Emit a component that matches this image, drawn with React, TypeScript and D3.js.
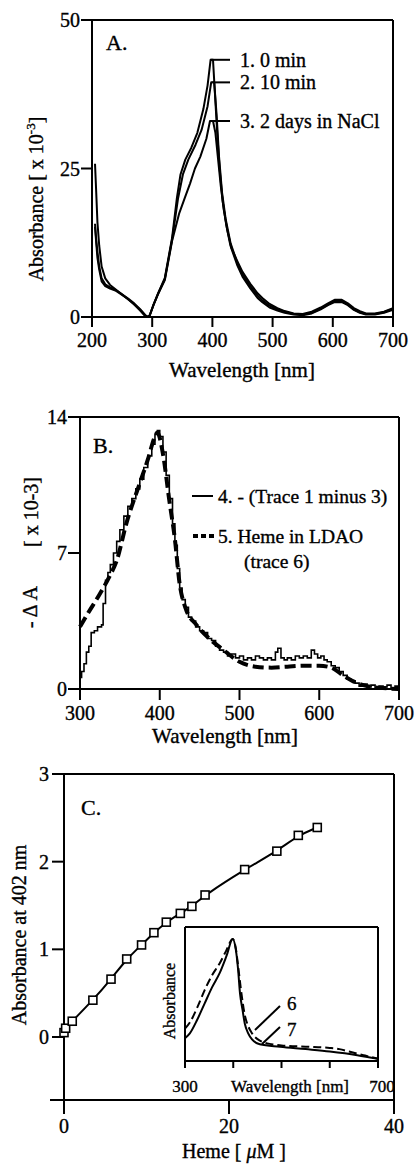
import React from "react";
import * as d3 from "d3";

type P = [number, number];

// ---------- Panel A data ----------
const ticksA_x = [200, 300, 400, 500, 600, 700];
const ticksA_y = [0, 25, 50];
const legendA = ["1. 0 min", "2. 10 min", "3. 2 days in NaCl"];
const peaksA: P[] = [[397, 43.3], [400, 39.5], [398, 33]];

const traceA1: P[] = [[205,25.8],[207,21],[209,16],[212,12],[216,8.5],[222,6.5],[230,5.4],[240,4.6],[250,3.8],[260,3.0],[270,2.2],[280,1.2],[288,0.3],[292,0],[296,0.3],[302,2],[310,4],[321,6.6],[333,13.3],[341,20],[347,24],[355,26.5],[365,28.5],[375,31],[385,35],[392,39],[397,43.3],[401,43.3],[404,38],[408,31],[412,25],[417,19.5],[423,15.5],[430,12],[441,8.8],[450,6.8],[463,4.8],[475,3.2],[483,2.5],[495,1.6],[508,1.1],[520,0.7],[535,0.4],[550,0.3],[565,0.6],[580,1.3],[592,2.0],[603,2.5],[615,2.5],[625,2.0],[635,1.2],[645,0.7],[655,0.4],[670,0.4],[685,0.7],[700,1.2]];
const traceA2: P[] = [[205,15.7],[207,13],[209,11],[212,8.5],[216,6.5],[222,5.5],[230,5],[240,4.5],[250,3.8],[260,3.1],[270,2.3],[280,1.3],[288,0.4],[292,0],[296,0.3],[302,2],[310,4],[321,6.4],[333,13],[343,20],[351,24],[360,26.5],[372,29],[382,31.5],[392,35.5],[398,39.5],[403,39.5],[407,34],[411,27],[416,21],[422,16.5],[430,12.5],[441,9.2],[450,7.2],[463,5.2],[475,3.6],[483,2.8],[495,1.9],[508,1.3],[520,0.9],[535,0.5],[550,0.4],[565,0.7],[580,1.4],[592,2.1],[603,2.7],[615,2.7],[625,2.1],[635,1.3],[645,0.8],[655,0.5],[670,0.5],[685,0.8],[700,1.4]];
const traceA3: P[] = [[205,15.2],[207,12.5],[209,10],[212,8],[216,6],[222,5.2],[230,4.8],[240,4.4],[250,3.7],[260,3.0],[270,2.1],[280,1.1],[288,0.2],[292,0],[296,0.3],[302,2],[310,3.9],[321,6.2],[333,12.8],[345,17.5],[354,20],[363,22.5],[371,25],[380,27],[390,30],[396,33],[401,33],[405,31],[409,27],[414,22],[419,18],[425,14.5],[432,11.5],[441,9.5],[450,7.6],[463,5.6],[475,4],[483,3.2],[495,2.2],[508,1.5],[520,1.0],[535,0.6],[550,0.5],[565,0.9],[580,1.6],[592,2.3],[603,2.9],[615,2.9],[625,2.3],[635,1.5],[645,1.0],[655,0.6],[670,0.6],[685,0.9],[700,1.5]];

// ---------- Panel B data ----------
const ticksB_x = [300, 400, 500, 600, 700];
const ticksB_y = [0, 7, 14];
const legendB = ["4.  - (Trace 1 minus 3)", "5.  Heme in LDAO", "(trace 6)"];
const traceB4: P[] = [[300,0.6],[302,0.9],[305,1.3],[308,1.9],[311,2.2],[314,2.9],[318,3.0],[322,3.2],[327,3.3],[329,4.4],[332,5.6],[335,6.0],[338,6.4],[342,7.0],[346,7.6],[350,8.2],[355,8.9],[360,9.4],[365,9.8],[370,10.3],[375,10.8],[380,11.4],[385,12.0],[390,12.6],[394,13.1],[397,13.3],[400,13.0],[404,12.2],[408,11.0],[412,9.8],[416,8.5],[419,7.4],[422,6.2],[425,5.2],[428,4.6],[432,4.2],[436,3.7],[440,3.5],[445,3.2],[450,3.0],[455,2.9],[460,2.6],[465,2.5],[470,2.2],[475,2.0],[480,1.9],[485,1.7],[490,1.8],[495,1.6],[500,1.7],[505,1.5],[510,1.6],[515,1.5],[520,1.7],[525,1.6],[530,1.5],[535,1.6],[540,1.5],[545,1.9],[548,2.1],[552,1.6],[556,1.5],[560,1.6],[565,1.5],[570,1.7],[575,1.6],[580,1.7],[585,1.6],[590,2.0],[594,1.8],[598,1.6],[602,1.7],[606,1.5],[610,1.4],[615,1.2],[620,1.1],[625,0.9],[630,0.7],[635,0.5],[640,0.4],[645,0.3],[650,0.15],[655,0.25],[660,0.1],[665,0.2],[670,0.05],[675,0.15],[680,0.1],[685,0.2],[690,0.05],[695,0.15],[700,0.1]];
const traceB5: P[] = [[300,3.2],[310,3.9],[325,4.9],[337,5.8],[346,6.6],[358,8.5],[375,10.6],[385,11.8],[394,13.0],[397,13.2],[404,12.1],[412,9.7],[419,7.7],[425,5.4],[432,4.2],[446,3.3],[462,2.6],[480,2.0],[500,1.4],[520,1.15],[540,1.1],[560,1.15],[580,1.2],[600,1.2],[615,1.1],[630,0.7],[645,0.35],[660,0.15],[680,0.05],[700,0]];

// ---------- Panel C data ----------
const ticksC_x = [0, 20, 40];
const ticksC_y = [0, 1, 2, 3];
const hemeConc = [0, 0.2, 1.0, 3.5, 5.7, 7.6, 9.4, 10.9, 12.4, 14.1, 15.5, 17.1, 21.9, 25.8, 28.4, 30.7];
const abs402 = [0.05, 0.1, 0.18, 0.42, 0.66, 0.89, 1.05, 1.19, 1.31, 1.41, 1.49, 1.62, 1.91, 2.12, 2.30, 2.39];

// inset
const insetTicks = [300, 400, 500, 600, 700];
const insetLabels = ["6", "7"];
const trace6: P[] = [[300,0.26],[310,0.31],[325,0.43],[341,0.58],[356,0.7],[372,0.8],[385,0.9],[399,1.0],[405,0.93],[410,0.78],[416,0.58],[424,0.37],[431,0.28],[439,0.22],[455,0.16],[480,0.13],[500,0.12],[550,0.11],[600,0.1],[620,0.09],[640,0.07],[670,0.04],[700,0.01]];
const trace7: P[] = [[300,0.18],[310,0.22],[325,0.33],[341,0.47],[356,0.6],[372,0.72],[386,0.86],[399,1.0],[405,0.92],[410,0.75],[414,0.55],[419,0.42],[424,0.3],[431,0.22],[439,0.17],[455,0.13],[497,0.11],[550,0.09],[600,0.07],[657,0.04],[700,0.01]];

const serif = '"Liberation Serif","Times New Roman",serif';

export default function App() {
  // Panel A scales
  const xA = d3.scaleLinear().domain([200, 700]).range([92, 393]);
  const yA = d3.scaleLinear().domain([0, 50]).range([317, 20]);
  const lineA = d3.line<P>().x(d => xA(d[0])).y(d => yA(d[1]));

  // Panel B scales
  const xB = d3.scaleLinear().domain([300, 700]).range([80, 399]);
  const yB = d3.scaleLinear().domain([0, 14]).range([689, 417]);
  const lineBstep = d3.line<P>().x(d => xB(d[0])).y(d => yB(d[1])).curve(d3.curveStepAfter);
  const lineBsmooth = d3.line<P>().x(d => xB(d[0])).y(d => yB(d[1])).curve(d3.curveMonotoneX);

  // Panel C scales
  const xC = d3.scaleLinear().domain([0, 40]).range([64, 394]);
  const yC = d3.scaleLinear().domain([0, 3]).range([1037, 774]);
  const yCmin = -0.72;
  const ptsC: P[] = hemeConc.map((c, i) => [c, abs402[i]]);
  const lineC = d3.line<P>().x(d => xC(d[0])).y(d => yC(d[1])).curve(d3.curveBasis);

  // inset
  const xI = d3.scaleLinear().domain([300, 700]).range([185, 378]);
  const yI = d3.scaleLinear().domain([0, 1]).range([1060, 939]);
  const lineI = d3.line<P>().x(d => xI(d[0])).y(d => yI(d[1])).curve(d3.curveMonotoneX);

  const k = "black";
  const A_left = xA(200), A_right = xA(700), A_top = yA(50), A_bot = yA(0);
  const B_left = xB(300), B_right = xB(700), B_top = yB(14), B_bot = yB(0);
  const C_left = xC(0), C_right = xC(40), C_top = yC(3), C_bot = yC(yCmin);
  const I_left = xI(300), I_right = xI(700), I_top = 927, I_bot = 1061;

  const txt = { stroke: k, strokeWidth: 0.35 } as const;

  return (
    <svg width={417} height={1165} style={{ position: "absolute", left: 0, top: 0, background: "#fff" }} fontFamily={serif} fill={k}>
      {/* ================= Panel A ================= */}
      <g stroke={k} strokeWidth={2} fill="none">
        <line x1={A_left} y1={A_top} x2={A_right} y2={A_top} />
        <line x1={A_right} y1={A_top} x2={A_right} y2={A_bot} />
        <line x1={A_left} y1={A_top} x2={A_left} y2={A_bot} />
        <line x1={A_left} y1={A_bot} x2={A_right} y2={A_bot} />
        {ticksA_x.map(t => <line key={t} x1={xA(t)} x2={xA(t)} y1={A_bot} y2={A_bot + 10} />)}
        {ticksA_y.map(t => <line key={t} x1={A_left - 11} x2={A_left} y1={yA(t)} y2={yA(t)} />)}
      </g>
      <g {...txt}>
        {ticksA_x.map(t => <text key={t} x={xA(t)} y={347} fontSize={20} textAnchor="middle">{t}</text>)}
        {ticksA_y.map(t => <text key={t} x={A_left - 12} y={yA(t) + 7} fontSize={20} textAnchor="end">{t}</text>)}
        <text x={242} y={377} fontSize={21} textAnchor="middle">Wavelength [nm]</text>
        <text transform="translate(43,199) rotate(-90)" fontSize={20} textAnchor="middle">
          Absorbance [ x 10<tspan fontSize={13} dy={-8}>-3</tspan><tspan dy={8}>]</tspan>
        </text>
        <text x={106} y={50} fontSize={22}>A.</text>
      </g>
      <g fill="none" stroke={k} strokeWidth={2} strokeLinejoin="round">
        <path d={lineA(traceA1) ?? ""} />
        <path d={lineA(traceA2) ?? ""} />
        <path d={lineA(traceA3) ?? ""} />
      </g>
      {legendA.map((s, i) => (
        <g key={s}>
          <line x1={xA(peaksA[i][0])} x2={230} y1={yA(peaksA[i][1])} y2={yA(peaksA[i][1])} stroke={k} strokeWidth={2} />
          <text x={240} y={yA(peaksA[i][1]) + 7} fontSize={20} {...txt}>{s}</text>
        </g>
      ))}

      {/* ================= Panel B ================= */}
      <g stroke={k} strokeWidth={2} fill="none">
        <line x1={B_left} y1={B_top} x2={B_right} y2={B_top} />
        <line x1={B_right} y1={B_top} x2={B_right} y2={B_bot} />
        <line x1={B_left} y1={B_top} x2={B_left} y2={B_bot} />
        <line x1={B_left} y1={B_bot} x2={B_right} y2={B_bot} />
        {ticksB_x.map(t => <line key={t} x1={xB(t)} x2={xB(t)} y1={B_bot} y2={B_bot + 11} />)}
        {ticksB_y.map(t => <line key={t} x1={B_left - 12} x2={B_left} y1={yB(t)} y2={yB(t)} />)}
      </g>
      <g {...txt}>
        {ticksB_x.map(t => <text key={t} x={xB(t)} y={720} fontSize={20} textAnchor="middle">{t}</text>)}
        {ticksB_y.map(t => <text key={t} x={B_left - 13} y={yB(t) + 7} fontSize={20} textAnchor="end">{t}</text>)}
        <text x={225} y={743} fontSize={21} textAnchor="middle">Wavelength [nm]</text>
        <text transform="translate(37,607) rotate(-90)" fontSize={20} textAnchor="middle">- Δ A</text>
        <text transform="translate(38,512) rotate(-90)" fontSize={20} textAnchor="middle">[ x 10-3]</text>
        <text x={93} y={453} fontSize={22}>B.</text>
      </g>
      <path d={lineBsmooth(traceB5) ?? ""} fill="none" stroke={k} strokeWidth={4} strokeDasharray="11,5" />
      <path d={lineBstep(traceB4) ?? ""} fill="none" stroke={k} strokeWidth={1.6} />
      <line x1={192} x2={213} y1={496} y2={496} stroke={k} strokeWidth={2} />
      <line x1={193} x2={214} y1={536} y2={536} stroke={k} strokeWidth={4} strokeDasharray="5,3" />
      <g {...txt}>
        <text x={218} y={503} fontSize={19.5}>{legendB[0]}</text>
        <text x={218} y={543} fontSize={19.5}>{legendB[1]}</text>
        <text x={244} y={568} fontSize={19.5}>{legendB[2]}</text>
      </g>

      {/* ================= Panel C ================= */}
      <g stroke={k} strokeWidth={2} fill="none">
        <line x1={C_left} y1={C_top} x2={C_right} y2={C_top} />
        <line x1={C_right} y1={C_top} x2={C_right} y2={C_bot} />
        <line x1={C_left} y1={C_top} x2={C_left} y2={C_bot} />
        <line x1={C_left - 14} y1={C_bot} x2={C_right} y2={C_bot} />
        {ticksC_x.map(t => <line key={t} x1={xC(t)} x2={xC(t)} y1={C_bot} y2={C_bot + 14} />)}
        {ticksC_y.map(t => <line key={t} x1={C_left - 12} x2={C_left} y1={yC(t)} y2={yC(t)} />)}
      </g>
      <g {...txt}>
        {ticksC_x.map(t => <text key={t} x={xC(t)} y={1133} fontSize={20} textAnchor="middle">{t}</text>)}
        {ticksC_y.map(t => <text key={t} x={C_left - 15} y={yC(t) + 7} fontSize={20} textAnchor="end">{t}</text>)}
        <text x={234} y={1158} fontSize={20} textAnchor="middle">
          Heme [ <tspan fontStyle="italic">μ</tspan>M ]
        </text>
        <text transform="translate(26,935) rotate(-90)" fontSize={20} textAnchor="middle">Absorbance at 402 nm</text>
        <text x={81} y={815} fontSize={22}>C.</text>
      </g>
      <path d={lineC(ptsC) ?? ""} fill="none" stroke={k} strokeWidth={2} />
      {ptsC.map((d, i) => (
        <rect key={i} x={xC(d[0]) - 4} y={yC(d[1]) - 4} width={8} height={8} fill="#fff" stroke={k} strokeWidth={1.6} />
      ))}

      {/* inset */}
      <rect x={I_left} y={I_top} width={I_right - I_left} height={I_bot - I_top} fill="#fff" stroke="none" />
      <g stroke={k} strokeWidth={2} fill="none">
        <line x1={I_left} y1={I_top} x2={I_right} y2={I_top} />
        <line x1={I_left} y1={I_top} x2={I_left} y2={I_bot + 7} />
        <line x1={I_right} y1={I_top} x2={I_right} y2={I_bot + 7} />
        <line x1={I_left} y1={I_bot} x2={I_right} y2={I_bot} />
        {insetTicks.slice(1, -1).map(t => <line key={t} x1={xI(t)} x2={xI(t)} y1={I_bot} y2={I_bot + 7} />)}
      </g>
      <path d={lineI(trace6) ?? ""} fill="none" stroke={k} strokeWidth={2} strokeDasharray="8,4" />
      <path d={lineI(trace7) ?? ""} fill="none" stroke={k} strokeWidth={2} />
      <g {...txt}>
        <text x={I_left} y={1092} fontSize={17} textAnchor="middle">{insetTicks[0]}</text>
        <text x={I_right + 4} y={1092} fontSize={17} textAnchor="middle">{insetTicks[insetTicks.length - 1]}</text>
        <text x={290} y={1092} fontSize={17} textAnchor="middle">Wavelength [nm]</text>
        <text transform="translate(175,1001) rotate(-90)" fontSize={16} textAnchor="middle">Absorbance</text>
        <text x={287} y={1010} fontSize={19}>{insetLabels[0]}</text>
        <text x={287} y={1036} fontSize={19}>{insetLabels[1]}</text>
      </g>
      <line x1={255} y1={1030} x2={280} y2={1006} stroke={k} strokeWidth={2} />
      <line x1={262} y1={1044} x2={280} y2={1027} stroke={k} strokeWidth={2} />
    </svg>
  );
}
